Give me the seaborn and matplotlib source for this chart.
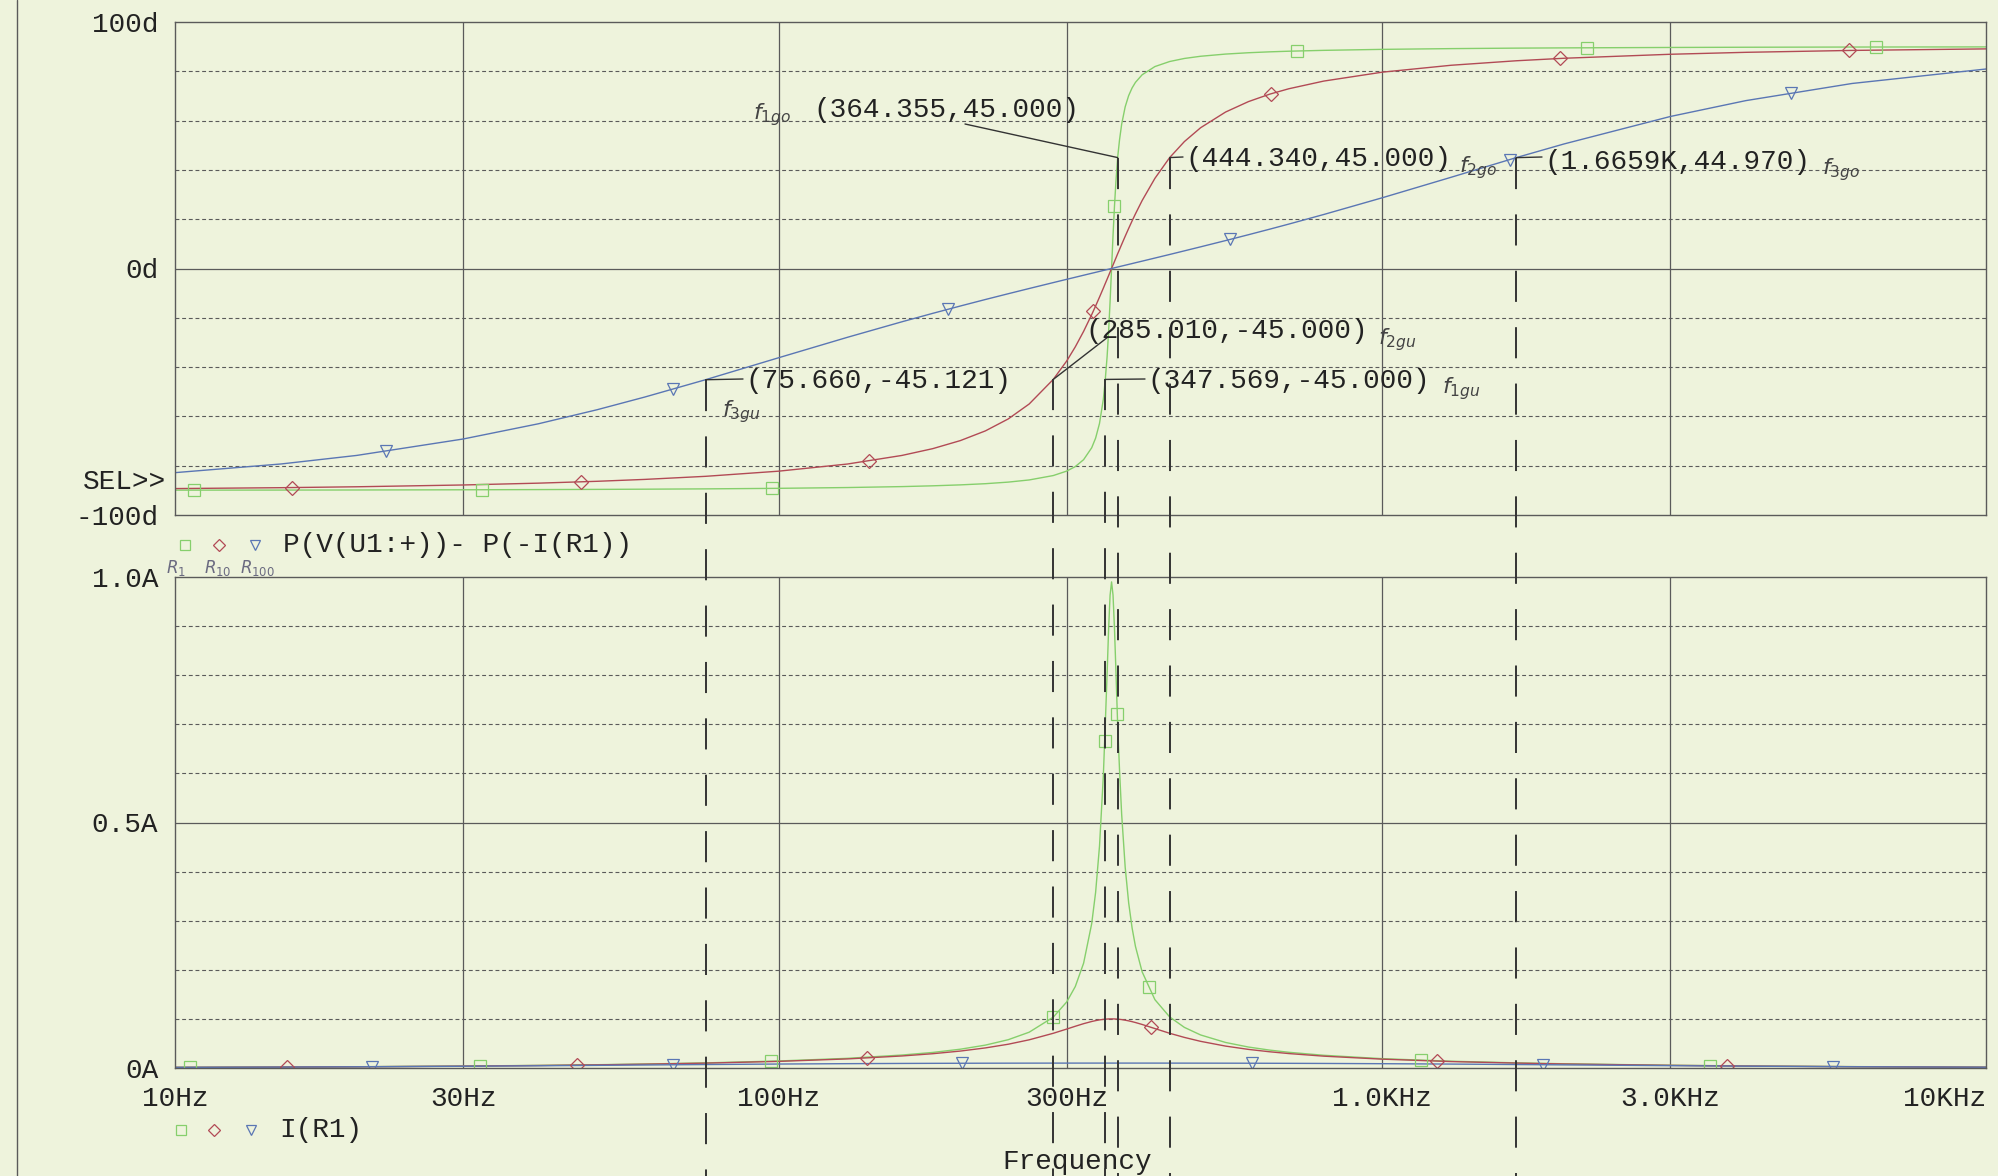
#!/usr/bin/env python3
# plot.py
# PSpice-style AC sweep: phase and current of a series resonant circuit for R = 1, 10, 100 Ohm
# Usage: python3 plot.py  -> writes out.png

import numpy as np
import pandas as pd
import matplotlib
matplotlib.use("Agg")
import matplotlib.pyplot as plt
import matplotlib.transforms as mtransforms
from matplotlib.lines import Line2D
from matplotlib.ticker import FixedLocator, NullLocator
import seaborn as sns

# Data (frequency in Hz)
FREQ = [10, 15, 20, 30, 40, 50, 60, 75.66,
        100, 130, 160, 180, 200, 220, 240, 260, 285.01, 300, 310, 320,
        330, 335, 340, 345, 347.569, 350, 352, 354, 356, 358, 360,
        362, 364.355, 367, 370, 375, 380, 385, 390, 400, 420, 444.34, 470, 500,
        550, 600, 650, 700, 800, 1000, 1300, 1665.9, 2000, 3000, 4000, 6000,
        10000]

# phase P(V(U1:+)) - P(-I(R1)) in degrees
PHASE_R1 = [-89.92, -89.89, -89.85, -89.77, -89.69, -89.61, -89.53, -89.40,
            -89.18, -88.86, -88.48, -88.16, -87.78, -87.30, -86.66, -85.78, -84.00, -82.19, -80.36, -77.55,
            -72.74, -68.81, -62.85, -53.08, -45.00, -35.78, -25.60, -13.44, 0.0, 13.37, 25.35,
            35.32, 45.00, 52.23, 58.56, 65.61, 70.14, 73.25, 75.52, 78.58, 81.92, 83.97, 85.21, 86.10,
            86.99, 87.53, 87.89, 88.15, 88.50, 88.90, 89.20, 89.40, 89.50, 89.67, 89.76, 89.84,
            89.90]
PHASE_R10 = [-89.28, -88.92, -88.55, -87.82, -87.08, -86.33, -85.56, -84.31,
             -82.22, -79.32, -75.84, -73.08, -69.81, -65.88, -61.04, -54.97, -45.00, -37.53, -31.79, -25.50,
             -18.73, -15.20, -11.61, -7.98, -6.09, -4.34, -2.89, -1.44, 0.0, 1.43, 2.86,
             4.27, 5.95, 7.74, 9.78, 13.08, 16.26, 19.30, 22.19, 27.55, 36.57, 45.00, 51.49, 57.11,
             63.48, 67.70, 70.69, 72.92, 76.04, 79.65, 82.45, 84.27, 85.29, 86.91, 87.70, 88.47,
             89.09]
PHASE_R100 = [-82.82, -79.29, -75.83, -69.18, -62.99, -57.31, -52.15, -45.12,
              -36.20, -27.91, -21.62, -18.19, -15.21, -12.58, -10.24, -8.12, -5.72, -4.39, -3.55, -2.73,
              -1.94, -1.56, -1.18, -0.80, -0.61, -0.43, -0.29, -0.14, 0.0, 0.14, 0.29,
              0.43, 0.60, 0.78, 0.99, 1.33, 1.67, 2.00, 2.34, 2.98, 4.24, 5.69, 7.16, 8.79,
              11.33, 13.70, 15.92, 18.02, 21.92, 28.70, 37.01, 44.97, 50.53, 61.67, 68.10, 75.06,
              80.93]

# current I(R1) in A
CURR_R1 = [0.0013, 0.0020, 0.0026, 0.0040, 0.0053, 0.0067, 0.0081, 0.0104,
           0.0143, 0.0197, 0.0264, 0.0317, 0.0383, 0.0466, 0.0576, 0.0729, 0.1035, 0.1345, 0.1659, 0.2135,
           0.2937, 0.3578, 0.4518, 0.5947, 0.7000, 0.8032, 0.8929, 0.9629, 0.9900, 0.9632, 0.8947,
           0.8078, 0.7000, 0.6064, 0.5164, 0.4088, 0.3364, 0.2852, 0.2475, 0.1960, 0.1392, 0.1040, 0.0827, 0.0673,
           0.0520, 0.0427, 0.0365, 0.0320, 0.0259, 0.0190, 0.0138, 0.0105, 0.0086, 0.0056, 0.0042, 0.0028,
           0.0017]
CURR_R10 = [0.0013, 0.0019, 0.0025, 0.0038, 0.0051, 0.0064, 0.0078, 0.0099,
            0.0135, 0.0185, 0.0245, 0.0291, 0.0345, 0.0409, 0.0484, 0.0574, 0.0707, 0.0793, 0.0850, 0.0903,
            0.0947, 0.0965, 0.0980, 0.0990, 0.0994, 0.0997, 0.0999, 0.1000, 0.1000, 0.1000, 0.0999,
            0.0997, 0.0995, 0.0991, 0.0986, 0.0974, 0.0960, 0.0944, 0.0926, 0.0887, 0.0803, 0.0707, 0.0623, 0.0543,
            0.0446, 0.0379, 0.0331, 0.0294, 0.0241, 0.0180, 0.0131, 0.0100, 0.0082, 0.0054, 0.0040, 0.0027,
            0.0016]
CURR_R100 = [0.00125, 0.00186, 0.00245, 0.00355, 0.00454, 0.00538, 0.00614, 0.00706,
             0.00807, 0.00883, 0.00930, 0.00950, 0.00965, 0.00976, 0.00984, 0.00990, 0.00995, 0.00997, 0.00998, 0.00999,
             0.00999, 0.01, 0.01, 0.01, 0.01, 0.01, 0.01, 0.01, 0.01, 0.01, 0.01,
             0.01, 0.01, 0.01, 0.01, 0.01, 0.01, 0.01, 0.00999, 0.00999, 0.00997, 0.00995, 0.00992, 0.00988,
             0.00981, 0.00972, 0.00962, 0.00951, 0.00928, 0.00877, 0.00799, 0.00708, 0.00636, 0.00475, 0.00373, 0.00258,
             0.00158]

# trace markers (PSpice symbols along each trace)
MK_PH_R1_F = [10.76, 32.3, 97.6, 360, 722, 2179, 6580]
MK_PH_R1 = [-89.9, -89.8, -89.2, 25.4, 88.2, 89.5, 89.85]
MK_PH_R10_F = [15.6, 47.0, 141.3, 332, 655, 1967, 5940]
MK_PH_R10 = [-88.9, -86.6, -78.1, -17.3, 70.9, 85.2, 88.5]
MK_PH_R100_F = [22.4, 66.8, 191.1, 560, 1627, 4748]
MK_PH_R100 = [-74.2, -48.9, -16.5, 11.8, 44.2, 71.3]

MK_I_R1_F = [10.6, 32.0, 97.3, 285, 346.8, 363.9, 410, 1157, 3494]
MK_I_R1 = [0.0013, 0.0043, 0.014, 0.1035, 0.665, 0.72, 0.165, 0.016, 0.0048]
MK_I_R10_F = [15.35, 46.3, 140, 414.3, 1233, 3722]
MK_I_R10 = [0.0019, 0.0059, 0.0204, 0.0827, 0.0140, 0.0043]
MK_I_R100_F = [21.2, 66.8, 201.6, 608.6, 1846, 5576]
MK_I_R100 = [0.0026, 0.0066, 0.0097, 0.0097, 0.0067, 0.0028]

# cursor read-outs
CURSOR_F = [364.355, 444.34, 1665.9, 285.01, 75.66, 347.569]
CURSOR_V = [45.0, 45.0, 44.97, -45.0, -45.121, -45.0]
CURSOR_TXT = ["(364.355,45.000)", "(444.340,45.000)", "(1.6659K,44.970)",
              "(285.010,-45.000)", "(75.660,-45.121)", "(347.569,-45.000)"]
CURSOR_HAND = [r"$f_{1go}$", r"$f_{2go}$", r"$f_{3go}$", r"$f_{2gu}$", r"$f_{3gu}$", r"$f_{1gu}$"]

X_TICKS = [10, 30, 100, 300, 1000, 3000, 10000]
X_LABELS = ["10Hz", "30Hz", "100Hz", "300Hz", "1.0KHz", "3.0KHz", "10KHz"]
TOP_TICKS = [-100, 0, 100]
TOP_LABELS = ["-100d", "0d", "100d"]
BOT_TICKS = [0, 0.5, 1.0]
BOT_LABELS = ["0A", "0.5A", "1.0A"]

# Style
BG = "#eef3dc"
GRID = "#5a5a5a"
INK = "#333333"
C_R1 = "#86cf6c"
C_R10 = "#b24a55"
C_R100 = "#5a76b4"
CURVES = ["R1", "R10", "R100"]
PALETTE = {"R1": C_R1, "R10": C_R10, "R100": C_R100}

sns.set_theme(style="white")
plt.rcParams["font.family"] = ["Liberation Mono", "DejaVu Sans Mono"]
plt.rcParams["mathtext.fontset"] = "dejavusans"
FS = 20

W, H = 1998, 1176
fig = plt.figure(figsize=(W / 100, H / 100), dpi=100, facecolor=BG)
ax_top = fig.add_axes([175 / W, 1 - 515 / H, (1986 - 175) / W, (515 - 22) / H])
ax_bot = fig.add_axes([175 / W, 1 - 1068 / H, (1986 - 175) / W, (1068 - 577) / H])

phase_df = pd.DataFrame({
    "freq": FREQ * 3,
    "val": PHASE_R1 + PHASE_R10 + PHASE_R100,
    "curve": ["R1"] * len(FREQ) + ["R10"] * len(FREQ) + ["R100"] * len(FREQ),
})
curr_df = pd.DataFrame({
    "freq": FREQ * 3,
    "val": CURR_R1 + CURR_R10 + CURR_R100,
    "curve": ["R1"] * len(FREQ) + ["R10"] * len(FREQ) + ["R100"] * len(FREQ),
})

for ax, df, ylim in [(ax_top, phase_df, (-100, 100)), (ax_bot, curr_df, (0, 1.0))]:
    ax.set_facecolor(BG)
    ax.set_xscale("log")
    sns.lineplot(data=df, x="freq", y="val", hue="curve", hue_order=CURVES, palette=PALETTE,
                 estimator=None, legend=False, linewidth=1.0, ax=ax)
    ax.set_xlim(10, 10000)
    ax.set_ylim(*ylim)
    ax.set_xlabel("")
    ax.set_ylabel("")
    for s in ax.spines.values():
        s.set_color(GRID)
        s.set_linewidth(1.0)
    for f in X_TICKS[1:-1]:
        ax.axvline(f, color=GRID, lw=0.9, zorder=0)
    ax.tick_params(axis="y", direction="out", length=8.5, width=0.9, color=GRID,
                   pad=3.5, labelsize=FS, labelcolor="#222222")

# horizontal grid
for v in [-80, -60, -40, -20, 20, 40, 60, 80]:
    ax_top.axhline(v, color=GRID, lw=0.8, ls=(0, (3.5, 2.5)), zorder=0)
ax_top.axhline(0, color=GRID, lw=0.9, zorder=0)
for v in [0.1, 0.2, 0.3, 0.4, 0.6, 0.7, 0.8, 0.9]:
    ax_bot.axhline(v, color=GRID, lw=0.8, ls=(0, (3.5, 2.5)), zorder=0)
ax_bot.axhline(0.5, color=GRID, lw=0.9, zorder=0)

ax_top.set_yticks(TOP_TICKS)
ax_top.set_yticklabels(TOP_LABELS)
ax_bot.set_yticks(BOT_TICKS)
ax_bot.set_yticklabels(BOT_LABELS)

for ax in (ax_top, ax_bot):
    ax.xaxis.set_major_locator(FixedLocator(X_TICKS))
    ax.xaxis.set_minor_locator(NullLocator())
ax_top.tick_params(axis="x", which="both", length=0, labelbottom=False)
ax_bot.set_xticklabels(X_LABELS)
ax_bot.tick_params(axis="x", which="both", length=0, pad=13, labelsize=FS, labelcolor="#222222")
ax_bot.get_xticklabels()[-1].set_horizontalalignment("right")

# trace symbols
mk = dict(linestyle="none", markerfacecolor="none", markeredgewidth=0.9)
ax_top.plot(MK_PH_R1_F, MK_PH_R1, marker="s", markersize=8, markeredgecolor=C_R1, **mk)
ax_top.plot(MK_PH_R10_F, MK_PH_R10, marker="D", markersize=7, markeredgecolor=C_R10, **mk)
ax_top.plot(MK_PH_R100_F, MK_PH_R100, marker="v", markersize=8, markeredgecolor=C_R100, **mk)
ax_bot.plot(MK_I_R1_F, MK_I_R1, marker="s", markersize=8, markeredgecolor=C_R1, **mk)
ax_bot.plot(MK_I_R10_F, MK_I_R10, marker="D", markersize=7, markeredgecolor=C_R10, **mk)
ax_bot.plot(MK_I_R100_F, MK_I_R100, marker="v", markersize=8, markeredgecolor=C_R100, **mk)

# cursors: dashed verticals from the point down to the page bottom, leader lines and labels
trans = mtransforms.blended_transform_factory(ax_top.transData, fig.transFigure)
inv = fig.transFigure.inverted()
leader_end = [(965, 124), (1183, 157), (1542, 157), (1108, 337), (743, 379), (1145, 379)]
txt_pos = [(813, 110), (1185, 159), (1544, 162), (1085, 331), (745, 381), (1147, 381)]
hand_pos = [(753, 115), (1459, 168), (1822, 170), (1378, 340), (722, 412), (1442, 389)]
for f, v, t, hw, le, tp, hp in zip(CURSOR_F, CURSOR_V, CURSOR_TXT, CURSOR_HAND,
                                  leader_end, txt_pos, hand_pos):
    y0 = inv.transform(ax_top.transData.transform((f, v)))[1]
    fig.add_artist(Line2D([f, f], [y0, 0], transform=trans, color=INK, lw=1.4,
                          ls=(0, (16, 13)), zorder=5))
    ax_top.annotate("", xy=(f, v), xytext=(le[0], H - le[1]), textcoords="figure pixels",
                    arrowprops=dict(arrowstyle="-", color=INK, lw=1.0, shrinkA=0, shrinkB=0))
    fig.text(tp[0] / W, 1 - tp[1] / H, t, ha="left", va="center", fontsize=FS, color="#222222")
    fig.text(hp[0] / W, 1 - hp[1] / H, hw, ha="left", va="center", fontsize=16,
             color="#444444", family="DejaVu Sans")

# legends and labels
fig.text(166 / W, 1 - 482 / H, "SEL>>", ha="right", va="center", fontsize=FS, color="#222222")
for (xs, y, txt) in [((185, 219, 255), 545, "P(V(U1:+))- P(-I(R1))"),
                     ((181, 214, 251), 1130, "I(R1)")]:
    for x, m, c, ms in zip(xs, ["s", "D", "v"], [C_R1, C_R10, C_R100], [7, 6, 7]):
        fig.add_artist(Line2D([x / W], [1 - y / H], transform=fig.transFigure, marker=m,
                              markersize=ms, markerfacecolor="none", markeredgecolor=c,
                              markeredgewidth=0.9, linestyle="none"))
    fig.text((xs[-1] + 28) / W, 1 - y / H, txt, ha="left", va="center", fontsize=FS,
             color="#222222")

for x, t in [(166, r"$R_1$"), (204, r"$R_{10}$"), (240, r"$R_{100}$")]:
    fig.text(x / W, 1 - 568 / H, t, ha="left", va="center", fontsize=12, color="#6a6a80",
             family="DejaVu Sans")

fig.text(1077 / W, 1 - 1162 / H, "Frequency", ha="center", va="center", fontsize=FS,
         color="#222222")

# page border on the left
fig.add_artist(Line2D([17 / W, 17 / W], [0, 1], transform=fig.transFigure, color=GRID, lw=1.0))

fig.savefig("out.png", dpi=100, facecolor=BG)
plt.close(fig)
